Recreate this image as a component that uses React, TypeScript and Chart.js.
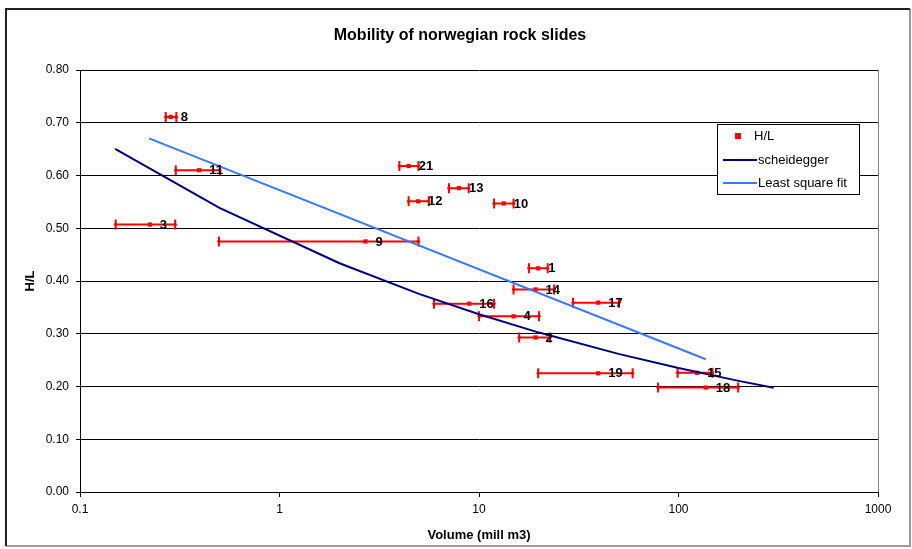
import React, { useEffect, useRef } from "react";
import { Chart, registerables } from "chart.js";

Chart.register(...registerables);

const pointLabels = ["1", "2", "3", "4", "8", "9", "10", "11", "12", "13", "14", "15", "16", "17", "18", "19", "21"];
const volumes = [19.8, 19.2, 0.224, 14.9, 0.285, 2.7, 13.3, 0.396, 4.95, 7.94, 19.2, 124, 8.94, 39.6, 137, 39.6, 4.44];
const hlValues = [0.424, 0.293, 0.507, 0.333, 0.711, 0.475, 0.547, 0.61, 0.551, 0.576, 0.384, 0.226, 0.357, 0.359, 0.198, 0.225, 0.618];
const volumeLow = [17.8, 15.9, 0.151, 10, 0.269, 0.497, 11.9, 0.302, 4.44, 7.07, 14.9, 99, 5.95, 29.6, 79, 19.8, 3.99];
const volumeHigh = [22.1, 22.7, 0.3, 20, 0.304, 4.97, 14.9, 0.503, 5.6, 8.88, 23.8, 148, 11.9, 50.3, 199, 58.9, 4.97];

const scheideggerX = [0.15, 0.5, 2, 5, 10, 20, 50, 100, 200, 300];
const scheideggerY = [0.6506, 0.5388, 0.4336, 0.3756, 0.337, 0.3022, 0.2618, 0.2349, 0.2107, 0.1978];

const fitX = [0.222, 137];
const fitY = [0.6705, 0.2516];

const xTicks = [0.1, 1, 10, 100, 1000];
const yTicks = [0, 0.1, 0.2, 0.3, 0.4, 0.5, 0.6, 0.7, 0.8];

const FONT = "'Liberation Sans', Arial, sans-serif";

export default function App() {
  const ref = useRef<HTMLCanvasElement | null>(null);

  useEffect(() => {
    document.body.style.margin = "0";
    const canvas = ref.current;
    if (!canvas) return;

    const decorPlugin = {
      id: "decor",
      beforeDatasetsDraw(chart: any) {
        const ctx = chart.ctx;
        const xs = chart.scales.x;
        const ys = chart.scales.y;
        const ca = chart.chartArea;
        ctx.save();
        ctx.strokeStyle = "#808080";
        ctx.lineWidth = 1;
        ctx.beginPath();
        ctx.moveTo(Math.round(ca.right) + 0.5, ca.top);
        ctx.lineTo(Math.round(ca.right) + 0.5, ca.bottom);
        ctx.stroke();
        ctx.strokeStyle = "#ff0000";
        ctx.lineWidth = 2;
        for (let i = 0; i < volumes.length; i++) {
          const y = ys.getPixelForValue(hlValues[i]);
          const x1 = xs.getPixelForValue(volumeLow[i]);
          const x2 = xs.getPixelForValue(volumeHigh[i]);
          ctx.beginPath();
          ctx.moveTo(x1, y);
          ctx.lineTo(x2, y);
          ctx.moveTo(x1, y - 5);
          ctx.lineTo(x1, y + 5);
          ctx.moveTo(x2, y - 5);
          ctx.lineTo(x2, y + 5);
          ctx.stroke();
          ctx.fillStyle = "#ff0000";
          for (const xx of [x1, x2]) {
            ctx.beginPath();
            ctx.moveTo(xx - 2, y);
            ctx.lineTo(xx, y - 2.5);
            ctx.lineTo(xx + 2, y);
            ctx.lineTo(xx, y + 2.5);
            ctx.closePath();
            ctx.fill();
          }
        }
        ctx.restore();
      },
      afterDatasetsDraw(chart: any) {
        const ctx = chart.ctx;
        const xs = chart.scales.x;
        const ys = chart.scales.y;
        const ca = chart.chartArea;
        ctx.save();
        ctx.fillStyle = "#000";
        ctx.font = `bold 13px ${FONT}`;
        ctx.textBaseline = "middle";
        ctx.textAlign = "left";
        for (let i = 0; i < volumes.length; i++) {
          const x = xs.getPixelForValue(volumes[i]);
          const y = ys.getPixelForValue(hlValues[i]);
          ctx.fillText(pointLabels[i], x + 10, y + 0.5);
        }
        const lx = ca.right - 161;
        const ly = ca.top + 54;
        const lw = 142;
        const lh = 70;
        ctx.fillStyle = "#fff";
        ctx.fillRect(lx, ly, lw, lh);
        ctx.strokeStyle = "#000";
        ctx.lineWidth = 1;
        ctx.strokeRect(Math.round(lx) + 0.5, Math.round(ly) + 0.5, lw, lh);
        ctx.font = `13px ${FONT}`;
        ctx.fillStyle = "#ff0000";
        ctx.fillRect(lx + 18, ly + 9, 6, 6);
        ctx.fillStyle = "#000";
        ctx.fillText("H/L", lx + 37, ly + 12);
        ctx.strokeStyle = "#000080";
        ctx.lineWidth = 2;
        ctx.beginPath();
        ctx.moveTo(lx + 6, ly + 36);
        ctx.lineTo(lx + 40, ly + 36);
        ctx.stroke();
        ctx.fillText("scheidegger", lx + 41, ly + 36);
        ctx.strokeStyle = "#3b78ff";
        ctx.beginPath();
        ctx.moveTo(lx + 6, ly + 59);
        ctx.lineTo(lx + 40, ly + 59);
        ctx.stroke();
        ctx.fillText("Least square fit", lx + 41, ly + 59);
        ctx.restore();
      },
      afterDraw(chart: any) {
        const ctx = chart.ctx;
        const ca = chart.chartArea;
        ctx.save();
        ctx.lineWidth = 2;
        ctx.strokeStyle = "#9a9a9a";
        ctx.beginPath();
        ctx.moveTo(910, 9);
        ctx.lineTo(910, 546);
        ctx.lineTo(6, 546);
        ctx.stroke();
        ctx.strokeStyle = "#222";
        ctx.beginPath();
        ctx.moveTo(6, 546);
        ctx.lineTo(6, 9);
        ctx.lineTo(910, 9);
        ctx.stroke();
        ctx.fillStyle = "#000";
        ctx.textAlign = "center";
        ctx.textBaseline = "middle";
        ctx.font = `bold 16px ${FONT}`;
        ctx.fillText("Mobility of norwegian rock slides", 460, 36);
        ctx.font = `bold 13px ${FONT}`;
        ctx.fillText("Volume (mill m3)", (ca.left + ca.right) / 2, 535);
        ctx.translate(30, (ca.top + ca.bottom) / 2);
        ctx.rotate(-Math.PI / 2);
        ctx.fillText("H/L", 0, 0);
        ctx.restore();
      },
    };

    const chart = new Chart(canvas, {
      type: "scatter",
      data: {
        datasets: [
          {
            label: "H/L",
            data: volumes.map((v, i) => ({ x: v, y: hlValues[i] })),
            pointStyle: "rect",
            pointRadius: 3,
            backgroundColor: "#ff0000",
            borderColor: "#ff0000",
            borderWidth: 0,
            showLine: false,
            order: 3,
          },
          {
            label: "scheidegger",
            data: scheideggerX.map((v, i) => ({ x: v, y: scheideggerY[i] })),
            showLine: true,
            borderColor: "#000080",
            borderWidth: 2,
            pointRadius: 0,
            tension: 0,
            order: 2,
          },
          {
            label: "Least square fit",
            data: fitX.map((v, i) => ({ x: v, y: fitY[i] })),
            showLine: true,
            borderColor: "#3b78ff",
            borderWidth: 2,
            pointRadius: 0,
            order: 1,
          },
        ],
      },
      options: {
        responsive: false,
        animation: false,
        layout: { padding: { left: 0, right: 34, top: 70, bottom: 0 } },
        plugins: {
          legend: { display: false },
          title: { display: false },
          tooltip: { enabled: false },
        },
        scales: {
          x: {
            type: "logarithmic",
            min: 0.1,
            max: 1000,
            afterBuildTicks: (s: any) => {
              s.ticks = xTicks.map((v) => ({ value: v }));
            },
            afterFit: (s: any) => {
              s.height = 57;
            },
            ticks: {
              callback: (v: any) => String(v),
              font: { family: FONT, size: 12 },
              color: "#000",
              padding: 5,
              maxRotation: 0,
              autoSkip: false,
            },
            grid: { drawOnChartArea: false, drawTicks: true, tickLength: 5, color: "#000" },
            border: { display: true, color: "#000", width: 1 },
          },
          y: {
            type: "linear",
            min: 0,
            max: 0.8,
            afterBuildTicks: (s: any) => {
              s.ticks = yTicks.map((v) => ({ value: v }));
            },
            afterFit: (s: any) => {
              s.width = 80;
            },
            ticks: {
              callback: (v: any) => Number(v).toFixed(2),
              font: { family: FONT, size: 12 },
              color: "#000",
              padding: 7,
            },
            grid: { color: "#000", lineWidth: 1, tickLength: 4 },
            border: { display: true, color: "#000", width: 1 },
          },
        },
      },
      plugins: [decorPlugin],
    } as any);

    return () => chart.destroy();
  }, []);

  return (
    <div style={{ width: 912, height: 549 }}>
      <canvas ref={ref} width={912} height={549} style={{ display: "block" }} />
    </div>
  );
}
